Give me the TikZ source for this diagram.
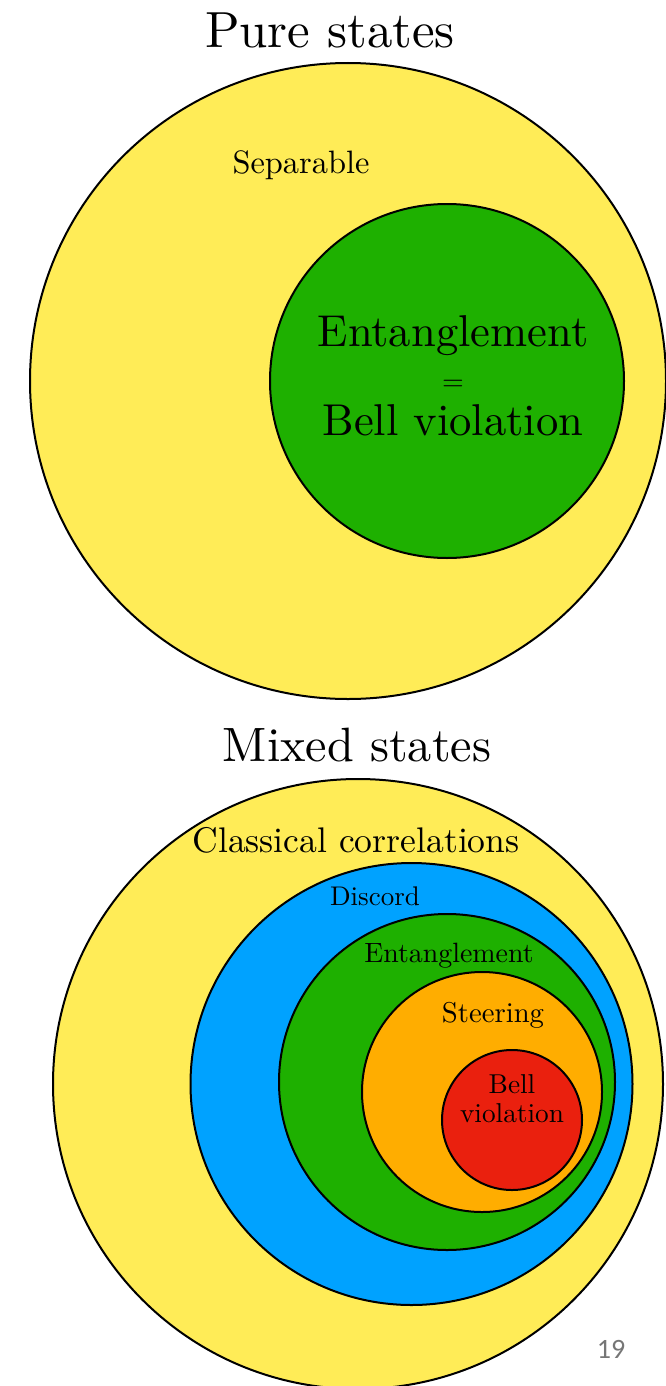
\documentclass[tikz,border=0pt]{standalone}
\usepackage{fontspec}
\setmainfont{lmroman10-regular.otf}
\newfontfamily\slidefont{Carlito}
\usepackage{tikz}

\definecolor{sepyellow}{RGB}{255,236,87}
\definecolor{entgreen}{RGB}{30,176,0}
\definecolor{discblue}{RGB}{0,162,255}
\definecolor{steerorange}{RGB}{255,173,0}
\definecolor{bellred}{RGB}{234,32,14}
\definecolor{pagegray}{RGB}{118,118,118}

\tikzset{
    ring/.style={draw=black,line width=2pt},
    settitle/.style={anchor=base,font=\fontsize{#1}{#1}\selectfont},
    setlabel/.style={anchor=base,align=center,font=\fontsize{#1}{#1}\selectfont},
}

\begin{document}
\begin{tikzpicture}[x=1pt,y=-1pt]
    \useasboundingbox (0,0) rectangle (666,1386);
    %\draw[help lines] (0,0) grid[step=50] (666,1386);
    % pure states
    \node[settitle=50.8] (puretitle) at (330,48) {Pure states};
    \draw[ring,fill=sepyellow] (348,381) circle (318pt);
    \draw[ring,fill=entgreen] (447,381) circle (177pt);
    \node[setlabel=32.4] (separable) at (301,173) {Separable};
    \node[anchor=base,align=center,font=\fontsize{44.6}{44.5}\selectfont] (entbell) at (453,435) {Entanglement\\{\fontsize{28}{44.5}\selectfont =}\\Bell violation};
    % mixed states
    \node[settitle=48.2] (mixedtitle) at (357,761) {Mixed states};
    \draw[ring,fill=sepyellow] (358,1084) circle (305pt);
    \draw[ring,fill=discblue] (411.5,1084) circle (221pt);
    \draw[ring,fill=entgreen] (447,1082) circle (168pt);
    \draw[ring,fill=steerorange] (482,1092) circle (120pt);
    \draw[ring,fill=bellred] (512,1120) circle (70pt);
    \node[setlabel=35.6] (classical) at (356,852) {Classical correlations};
    \node[setlabel=27] (discord) at (375,905) {Discord};
    \node[setlabel=27.9] (entangle) at (449,962) {Entanglement};
    \node[setlabel=28.7] (steering) at (493,1022) {Steering};
    \node[anchor=base,align=center,font=\fontsize{27.3}{29}\selectfont] (bellviol) at (512,1122) {Bell\\violation};
    % slide number
    \node[anchor=base,text=pagegray,font=\slidefont\fontsize{28}{28}\selectfont] (pagenum) at (611,1358) {19};
\end{tikzpicture}
\end{document}
